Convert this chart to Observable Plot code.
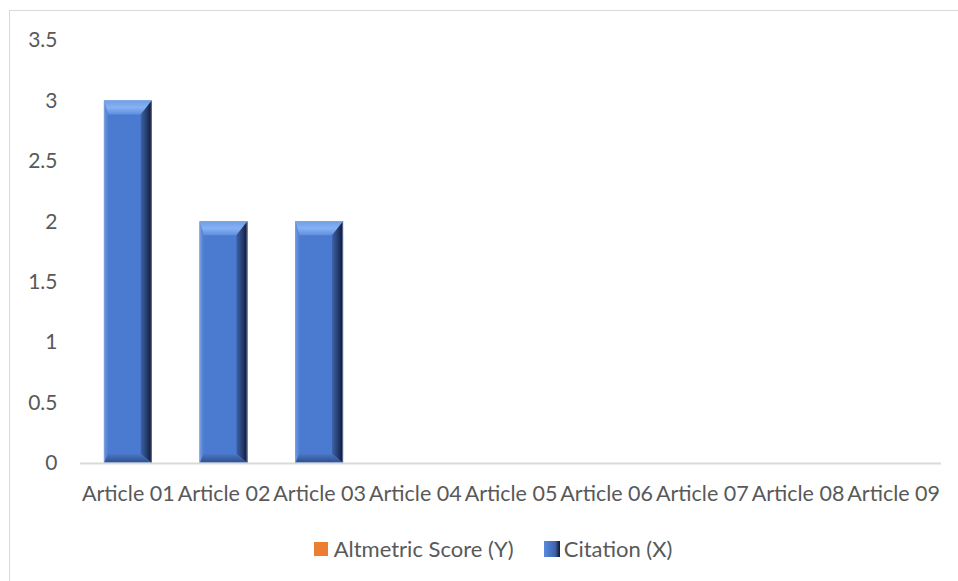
<!DOCTYPE html>
<html>
<head>
<meta charset="utf-8">
<script src="https://cdn.jsdelivr.net/npm/d3@7"></script>
<script src="https://cdn.jsdelivr.net/npm/@observablehq/plot@0.6"></script>
<style>
  html, body { margin: 0; padding: 0; background: #fff; }
  body { width: 958px; height: 581px; position: relative; overflow: hidden; font-family: Lato, "Open Sans", sans-serif; }
  #frame { position: absolute; left: 9px; top: 10px; width: 1000px; height: 1000px; border: 1px solid #d9d9d9; box-sizing: border-box; pointer-events: none; }
  #chart { position: absolute; left: 0; top: 0; }
  #legend { position: absolute; left: 14px; top: 535px; width: 958px; display: flex; justify-content: center; align-items: center; font-size: 22px; color: #595959; }
  .item { display: flex; align-items: center; margin: 0 15px; }
  .sw { width: 14px; height: 14px; margin-right: 6px; }
</style>
</head>
<body>
<div id="chart"></div>
<div id="frame"></div>
<div id="legend">
  <div class="item"><div class="sw" style="background:#ED7D31"></div><span id="l0"></span></div>
  <div class="item"><div class="sw" style="width:16px;height:16px;margin-right:4px;background:linear-gradient(90deg,#5d89d8 0%,#4a7bd0 30%,#3f64a8 70%,#0d1628 100%)"></div><span id="l1"></span></div>
</div>
<script>
const categories = ["Article 01","Article 02","Article 03","Article 04","Article 05","Article 06","Article 07","Article 08","Article 09"];
const altmetric = [0,0,0,0,0,0,0,0,0];
const citation = [3,2,2,0,0,0,0,0,0];
const seriesNames = ["Altmetric Score (Y)","Citation (X)"];
const yTicks = [0,0.5,1,1.5,2,2.5,3,3.5];

document.getElementById("l0").textContent = seriesNames[0];
document.getElementById("l1").textContent = seriesNames[1];

const rows = categories.map((c,i) => ({cat: c, alt: altmetric[i], cit: citation[i]}));

const svg = Plot.plot({
  width: 958,
  height: 520,
  marginLeft: 80,
  marginRight: 17,
  marginTop: 40,
  marginBottom: 57,
  style: {fontFamily: "Lato, 'Open Sans', sans-serif", fontSize: "21.5px", color: "#595959", background: "transparent", overflow: "visible"},
  x: {domain: categories, paddingInner: 0.5, paddingOuter: 0.25, round: false, label: null},
  y: {domain: [0, 3.5], label: null},
  marks: [
    Plot.barY(rows, {x: "cat", y: "alt", fill: "#ED7D31"}),
    Plot.barY(rows, {x: "cat", y: "cit", fill: "#4a7bd0"}),
    Plot.ruleY([0], {stroke: "#d9d9d9", strokeWidth: 2}),
    Plot.axisX({tickSize: 0, tickPadding: 22, label: null, fill: "#595959"}),
    Plot.axisY({ticks: yTicks, tickSize: 0, tickPadding: 23, tickFormat: d => String(d), label: null, fill: "#595959", fontSize: "21px"})
  ]
});
document.getElementById("chart").appendChild(svg);

// bevel decoration drawn over the rendered citation bars
const s = d3.select(svg);
const defs = s.insert("defs", ":first-child");
function grad(id, x2, y2, stops) {
  const g = defs.append("linearGradient").attr("id", id).attr("x1", 0).attr("y1", 0).attr("x2", x2).attr("y2", y2);
  stops.forEach(([o, c]) => g.append("stop").attr("offset", o).attr("stop-color", c));
}
grad("bvTop", 0, 1, [[0, "#6f9de8"], [0.5, "#86b1f4"], [1, "#5f8edd"]]);
grad("bvRight", 1, 0, [[0, "#3d62a6"], [0.6, "#22396a"], [1, "#0c1426"]]);
grad("bvBottom", 0, 1, [[0, "#4a77c6"], [1, "#2c4d8c"]]);
grad("bvLeft", 1, 0, [[0, "#6a95e0"], [1, "#5282d4"]]);

const barGroups = svg.querySelectorAll('g[aria-label="bar"]');
const citGroup = barGroups[1];
d3.select(citGroup).selectAll("rect").each(function() {
  const r = d3.select(this);
  const x = +r.attr("x"), y = +r.attr("y"), w = +r.attr("width"), h = +r.attr("height");
  if (!(h > 1)) return;
  const t = Math.min(14, h / 3), b = Math.min(9, h / 4), rr = 11, l = 4;
  const g = d3.select(this.parentNode);
  const poly = (pts, fill) => g.append("polygon").attr("points", pts.map(p => p.join(",")).join(" ")).attr("fill", fill);
  poly([[x, y], [x + w, y], [x + w - rr, y + t], [x + l, y + t]], "url(#bvTop)");
  poly([[x + w, y], [x + w, y + h], [x + w - rr, y + h - b], [x + w - rr, y + t]], "url(#bvRight)");
  poly([[x, y], [x + l, y + t], [x + l, y + h - b], [x, y + h]], "url(#bvLeft)");
  poly([[x, y + h], [x + w, y + h], [x + w - rr, y + h - b], [x + l, y + h - b]], "url(#bvBottom)");
  g.append("rect").attr("x", x + 0.5).attr("y", y + 0.5).attr("width", w - 1).attr("height", h - 1)
    .attr("fill", "none").attr("stroke", "#8fa9d8").attr("stroke-width", 1).attr("stroke-opacity", 0.6);
});
</script>
</body>
</html>
